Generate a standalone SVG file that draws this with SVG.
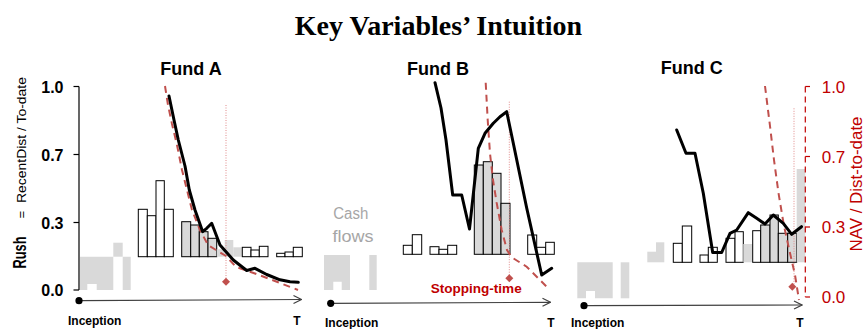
<svg xmlns="http://www.w3.org/2000/svg" width="867" height="329" viewBox="0 0 867 329">
<style>
.title{font-family:"Liberation Serif","Times New Roman",serif;font-weight:bold;font-size:28px;fill:#000}
.fund{font-family:"Liberation Sans",Arial,sans-serif;font-weight:bold;font-size:18px;fill:#000}
.tick{font-family:"Liberation Sans",Arial,sans-serif;font-weight:bold;font-size:16px;fill:#000}
.rtick{font-family:"Liberation Sans",Arial,sans-serif;font-size:17px;fill:#c00000}
.lbl{font-family:"Liberation Sans",Arial,sans-serif;font-weight:bold;font-size:12px;fill:#000}
.cash{font-family:"Liberation Sans",Arial,sans-serif;font-size:16px;fill:#a6a6a6}
.stop{font-family:"Liberation Sans",Arial,sans-serif;font-weight:bold;font-size:13px;fill:#c00000}
.lg{fill:#d9d9d9;stroke:none}
.wb{fill:#fff;stroke:#000;stroke-width:1}
.gb{fill:#d9d9d9;stroke:#000;stroke-width:1}
.rush{fill:none;stroke:#000;stroke-width:3;stroke-linejoin:round;stroke-linecap:round}
.nav{fill:none;stroke:#c0504d;stroke-width:2;stroke-dasharray:7 5}
.stopline{fill:none;stroke:#e08a8a;stroke-width:1;stroke-dasharray:1 1.5}
.axis{fill:none;stroke:#000;stroke-width:1.2}
.time{fill:none;stroke:#404040;stroke-width:1.2}
.dia{fill:#c0504d}
</style>
<defs>
<marker id="chev" markerWidth="10" markerHeight="10" refX="9" refY="5" orient="auto" markerUnits="userSpaceOnUse">
<path d="M1,1 L9,5 L1,9" fill="none" stroke="#404040" stroke-width="1.2"/>
</marker>
</defs>
<rect width="867" height="329" fill="#fff"/>
<text class="title" x="438.5" y="35" text-anchor="middle">Key Variables’ Intuition</text>

<g id="left-axis">
<line class="axis" x1="79" y1="86.5" x2="79" y2="290"/>
<line class="axis" x1="73.5" y1="86.5" x2="79" y2="86.5"/>
<line class="axis" x1="73.5" y1="154.5" x2="79" y2="154.5"/>
<line class="axis" x1="73.5" y1="222.5" x2="79" y2="222.5"/>
<line class="axis" x1="73.5" y1="290" x2="79" y2="290"/>
<text class="tick" x="63.5" y="92.5" text-anchor="end">1.0</text>
<text class="tick" x="63.5" y="160.5" text-anchor="end">0.7</text>
<text class="tick" x="63.5" y="228.5" text-anchor="end">0.3</text>
<text class="tick" x="63.5" y="296" text-anchor="end">0.0</text>
<g transform="translate(25.5,268.5) rotate(-90)">
<text x="0" y="0" font-family="Liberation Sans, Arial, sans-serif" font-weight="bold" font-size="19" textLength="32" lengthAdjust="spacingAndGlyphs">Rush</text>
<text x="50" y="0" font-family="Liberation Sans, Arial, sans-serif" font-size="13">=</text>
<text x="65.5" y="0" font-family="Liberation Sans, Arial, sans-serif" font-size="13" textLength="126" lengthAdjust="spacingAndGlyphs">RecentDist / To-date</text>
</g>
</g>

<g id="fund-a">
<text class="fund" x="191" y="75" text-anchor="middle">Fund A</text>
<path class="lg" d="M80,256.7 H130.7 V290 H122.7 V256.7 H113.3 V290 H96.7 V284 H87.3 V290 H80 Z"/>
<rect class="lg" x="113.3" y="242.7" width="9.4" height="14"/>
<rect class="wb" x="138.3" y="209.3" width="9" height="47.4"/>
<rect class="wb" x="147.3" y="215.7" width="8.7" height="41"/>
<rect class="wb" x="156" y="180.7" width="8.3" height="76"/>
<rect class="wb" x="164.3" y="209.3" width="9" height="47.4"/>
<rect class="gb" x="181.7" y="221.7" width="9" height="35"/>
<rect class="gb" x="190.7" y="225" width="8.6" height="31.7"/>
<rect class="gb" x="199.3" y="231.7" width="8.7" height="25"/>
<rect class="gb" x="208" y="238.3" width="8.7" height="18.4"/>
<rect class="lg" x="216.7" y="249.3" width="8" height="7.4"/>
<rect class="lg" x="224.7" y="240" width="8.6" height="16.7"/>
<rect class="lg" x="233.3" y="247.3" width="8.7" height="9.4"/>
<rect class="wb" x="242.3" y="247.3" width="8.7" height="9.4"/>
<rect class="wb" x="251" y="250" width="8.3" height="6.7"/>
<rect class="wb" x="259.3" y="246.3" width="8.7" height="10.4"/>
<rect class="wb" x="276.7" y="253.3" width="8.3" height="3.4"/>
<rect class="wb" x="285" y="252" width="8.3" height="4.7"/>
<rect class="wb" x="293.3" y="247.3" width="9" height="9.4"/>
<line class="stopline" x1="226" y1="105" x2="226" y2="281.7"/>
<polyline class="nav" points="165,86 168,105 172,124 177,145 182,170 187,190 192,210 200,230 208,245 216,250 226,256 236,267 250,271.7 263,276.5 280,283 298,290"/>
<polyline class="rush" points="169,96 174,120 178.3,140 185,166 189.3,190 195,210 202.7,231.7 206.7,228.3 211.7,223.3 220,245 233.3,260 246.7,270.5 255,268.3 266.7,274.5 280,279.8 290,281.7 298.3,282.3"/>
<path class="dia" d="M226,277.7 L230,281.7 L226,285.7 L222,281.7 Z"/>
<line class="time" x1="79" y1="300.7" x2="301.5" y2="299.5" marker-end="url(#chev)"/>
<circle cx="79" cy="300.7" r="3.6" fill="#000"/>
<text class="lbl" x="68" y="325">Inception</text>
<text class="lbl" x="297" y="325" text-anchor="middle">T</text>
</g>

<g id="fund-b">
<text class="fund" x="438" y="75" text-anchor="middle">Fund B</text>
<text class="cash" x="333.3" y="219.3" textLength="35" lengthAdjust="spacingAndGlyphs">Cash</text>
<text class="cash" x="332.5" y="241.5" textLength="41" lengthAdjust="spacingAndGlyphs">flows</text>
<path class="lg" d="M324,255 H350 V290 H341.7 V281.7 H333.3 V290 H324 Z"/>
<rect class="lg" x="369.3" y="255" width="7.4" height="35"/>
<rect class="wb" x="403.3" y="245.3" width="9" height="9"/>
<rect class="wb" x="412.3" y="234.7" width="9.4" height="19.6"/>
<rect class="wb" x="430" y="246.7" width="9" height="7.6"/>
<rect class="wb" x="439" y="249.3" width="8.7" height="5"/>
<rect class="wb" x="447.7" y="245.3" width="9" height="9"/>
<rect class="gb" x="474.3" y="165" width="9" height="89.3"/>
<rect class="gb" x="483.3" y="161.7" width="9" height="92.6"/>
<rect class="gb" x="492.3" y="173.3" width="8.7" height="81"/>
<rect class="gb" x="501" y="203.3" width="9" height="51"/>
<rect class="wb" x="527.7" y="235" width="9" height="19.3"/>
<rect class="wb" x="536.7" y="247.3" width="9" height="7"/>
<rect class="wb" x="545.7" y="242.3" width="8.6" height="12"/>
<line class="stopline" x1="509.3" y1="101.7" x2="509.3" y2="278.3"/>
<polyline class="nav" points="485.7,82.7 487.7,120 490,153.3 493,180 496.7,203 501.7,230 507,250 511.7,257.3 526.7,266.7 536.7,276.7 548.3,288.3"/>
<polyline class="rush" points="435,82.7 441,108 446,140 452.7,195 461.7,195 469.5,229 478.3,148.3 485,133.3 493.3,123.3 500,116.7 506.7,111.7 513.3,143.3 526.7,208 541.7,275 551.7,268.3"/>
<path class="dia" d="M509.3,274.3 L513.3,278.3 L509.3,282.3 L505.3,278.3 Z"/>
<text class="stop" x="430.7" y="293.3" textLength="91" lengthAdjust="spacingAndGlyphs">Stopping-time</text>
<line class="time" x1="330.7" y1="303.3" x2="550.5" y2="302.3" marker-end="url(#chev)"/>
<circle cx="330.7" cy="303.3" r="3.6" fill="#000"/>
<text class="lbl" x="325" y="327">Inception</text>
<text class="lbl" x="551" y="327" text-anchor="middle">T</text>
</g>

<g id="fund-c">
<text class="fund" x="691.7" y="74" text-anchor="middle">Fund C</text>
<path class="lg" d="M577.3,262.3 H612.7 V298.3 H595 V291 H586 V298.3 H577.3 Z"/>
<rect class="lg" x="620.7" y="262.3" width="8.6" height="36"/>
<rect class="lg" x="647.3" y="251.7" width="8.7" height="10.6"/>
<rect class="lg" x="656" y="242.3" width="8.3" height="20"/>
<rect class="wb" x="673.3" y="243.3" width="9" height="19"/>
<rect class="wb" x="682.3" y="226" width="9.4" height="36.3"/>
<rect class="wb" x="700" y="255" width="8.3" height="7.3"/>
<rect class="wb" x="708.3" y="247.3" width="9" height="15"/>
<rect class="wb" x="726" y="238.3" width="9" height="24"/>
<rect class="wb" x="735" y="231.7" width="8.3" height="30.6"/>
<rect class="lg" x="743.3" y="244" width="9.4" height="18.3"/>
<rect class="wb" x="752.7" y="230.7" width="8" height="31.6"/>
<rect class="gb" x="760.7" y="225" width="9.3" height="37.3"/>
<rect class="gb" x="770" y="215" width="8.3" height="47.3"/>
<rect class="gb" x="778.3" y="233.3" width="9.4" height="29"/>
<rect class="gb" x="787.7" y="233.3" width="9" height="29"/>
<rect class="lg" x="796.7" y="169" width="8.6" height="93.3"/>
<line class="stopline" x1="794" y1="108.3" x2="794" y2="286.7"/>
<polyline class="nav" points="765,86 770,126 774,160 778.5,193 784,226 790,253 795,275 799,300"/>
<polyline class="rush" points="676.7,130 686,153.3 695,153.3 703.3,193.3 712.7,252.5 721.7,252.5 730,233.3 736.7,230 748.3,212.7 756.7,218.3 765,224 773.3,215 783.3,223.3 791.7,234.3 801.5,226.7"/>
<path class="dia" d="M792.3,282.7 L796.3,286.7 L792.3,290.7 L788.3,286.7 Z"/>
<line class="time" x1="584" y1="305.7" x2="802" y2="305" marker-end="url(#chev)"/>
<circle cx="584" cy="305.7" r="3.6" fill="#000"/>
<text class="lbl" x="571" y="327">Inception</text>
<text class="lbl" x="800" y="327" text-anchor="middle">T</text>
</g>

<g id="right-axis">
<line x1="805.3" y1="86.5" x2="805.3" y2="297" stroke="#c00000" stroke-width="1.2" stroke-dasharray="6 4"/>
<line x1="805.3" y1="86.5" x2="810" y2="86.5" stroke="#c00000" stroke-width="1.2"/>
<line x1="805.3" y1="156.5" x2="810" y2="156.5" stroke="#c00000" stroke-width="1.2"/>
<line x1="805.3" y1="227" x2="810" y2="227" stroke="#c00000" stroke-width="1.2"/>
<line x1="805.3" y1="297" x2="810" y2="297" stroke="#c00000" stroke-width="1.2"/>
<text class="rtick" x="821.7" y="92.5">1.0</text>
<text class="rtick" x="821.7" y="162.5">0.7</text>
<text class="rtick" x="821.7" y="233">0.3</text>
<text class="rtick" x="821.7" y="303">0.0</text>
<text transform="translate(862,184) rotate(-90)" text-anchor="middle" font-family="Liberation Sans, Arial, sans-serif" font-size="17" fill="#c00000" textLength="135" lengthAdjust="spacingAndGlyphs">NAV / Dist-to-date</text>
</g>
</svg>
